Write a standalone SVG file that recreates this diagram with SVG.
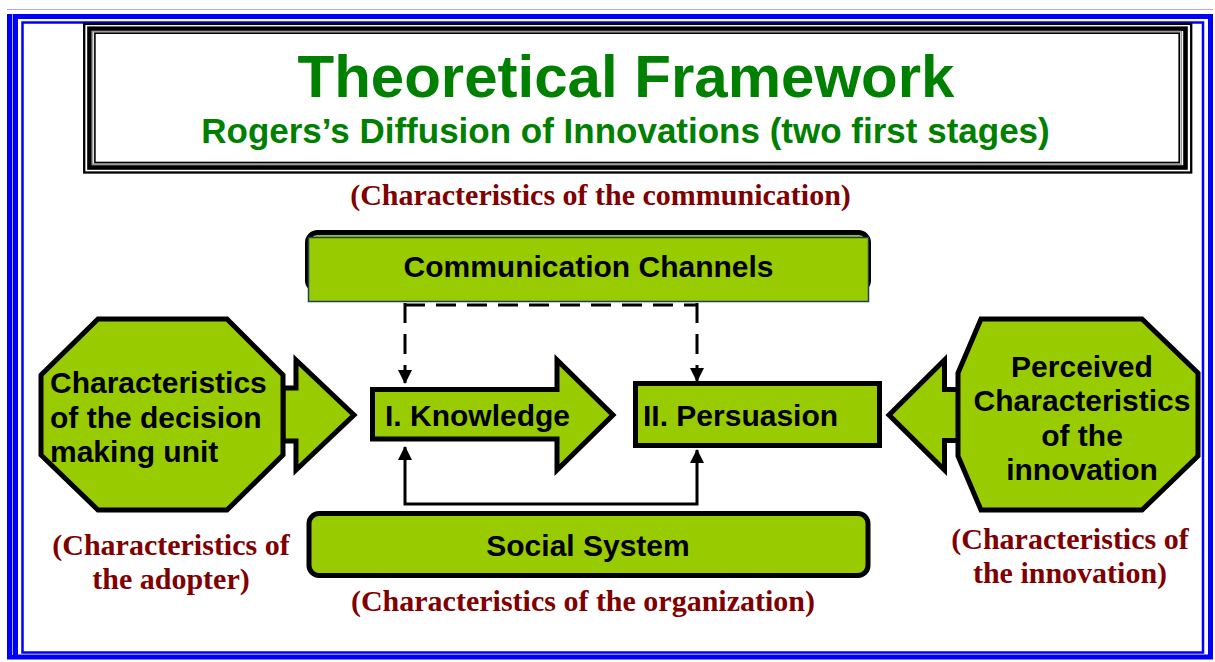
<svg xmlns="http://www.w3.org/2000/svg" width="1215" height="662" viewBox="0 0 1215 662">
  <defs>
    <style>
      .frame { fill: none; stroke: #0000FF; }
      .node { fill: #99CC00; stroke: #000; stroke-width: 5; stroke-linejoin: miter; }
      .label { font-family: "Liberation Sans", Arial, sans-serif; font-weight: bold; font-size: 30px; fill: #000; }
      .note { font-family: "Liberation Serif", "Times New Roman", serif; font-weight: bold; font-size: 30px; fill: #800000; text-anchor: middle; }
      .title { font-family: "Liberation Sans", Arial, sans-serif; font-weight: bold; fill: #008000; text-anchor: middle; }
      .link { fill: none; stroke: #000; stroke-width: 3; }
      .dashed { stroke-dasharray: 20 11; }
    </style>
    <marker id="head" viewBox="0 0 14 14" refX="13" refY="7" markerWidth="14" markerHeight="14" markerUnits="userSpaceOnUse" orient="auto-start-reverse">
      <path d="M0,0 L14,7 L0,14 Z" fill="#000"/>
    </marker>
  </defs>

  <rect width="1215" height="662" fill="#fff"/>

  <!-- page frame: thick outer band, inner thin line -->
  <g id="page-frame">
    <line x1="7" y1="9.5" x2="1213" y2="9.5" stroke="#A8A8FF" stroke-width="1"/>
    <rect class="frame" x="9.5" y="16.5" width="1201" height="640.5" stroke-width="5"/>
    <line x1="12.5" y1="14" x2="12.5" y2="655" stroke="#A8A8FF" stroke-width="1"/>
    <line x1="15.5" y1="14" x2="15.5" y2="655" stroke="#0000FF" stroke-width="5"/>
    <rect class="frame" x="22.5" y="22.5" width="1180.5" height="630" stroke-width="2.5"/>
  </g>

  <!-- title panel -->
  <g id="title">
    <rect x="84.2" y="23.9" width="1107" height="148.6" fill="#fff" stroke="#000" stroke-width="2.3"/>
    <rect x="89.5" y="28.7" width="1096" height="138.8" fill="none" stroke="#000" stroke-width="4.6"/>
    <rect x="92.5" y="31.5" width="1088.8" height="132.7" fill="none" stroke="#9a9a9a" stroke-width="1.6"/>
    <rect x="94.9" y="33.2" width="1084.3" height="129.3" fill="none" stroke="#000" stroke-width="1.6"/>
    <text class="title" x="626" y="97" font-size="60">Theoretical Framework</text>
    <text class="title" x="625.5" y="143" font-size="35">Rogers’s Diffusion of Innovations (two first stages)</text>
  </g>

  <!-- connectors -->
  <g id="connectors">
    <path class="link dashed" d="M405,305 H697"/>
    <path class="link dashed" d="M405,303 V383" marker-end="url(#head)"/>
    <path class="link dashed" d="M697,303 V381" marker-end="url(#head)"/>
    <path class="link" d="M405,447 V504 H697 V450" marker-start="url(#head)" marker-end="url(#head)"/>
  </g>

  <g id="communication-channels">
    <rect x="307.5" y="232.5" width="561" height="58" rx="10" class="node"/>
    <rect x="308.5" y="237.5" width="560" height="64" fill="#99CC00" stroke="#1F3D5C" stroke-width="1.5"/>
    <text class="label" x="588.5" y="276.5" text-anchor="middle">Communication Channels</text>
  </g>
  <text class="note" x="600.5" y="205">(Characteristics of the communication)</text>

  <g id="adopter">
    <polygon class="node" points="283,388 296,388 296,360 354,415 296,470 296,441 283,441"/>
    <polygon class="node" stroke-width="4.5" points="98,319 227,319 283,375 283,455 227,510 98,510 41,455 41,375"/>
    <text class="label" x="50" y="393">Characteristics</text>
    <text class="label" x="50" y="428">of the decision</text>
    <text class="label" x="50" y="462">making unit</text>
  </g>
  <text class="note" x="171" y="555">(Characteristics of</text>
  <text class="note" x="171" y="589">the adopter)</text>

  <g id="knowledge">
    <polygon class="node" points="372.5,389.5 557,389.5 557,360 613,415 557,470 557,439 372.5,439"/>
    <text class="label" x="385" y="426">I. Knowledge</text>
  </g>

  <g id="persuasion">
    <rect class="node" x="635.5" y="383.5" width="244" height="62"/>
    <text class="label" x="643" y="426">II. Persuasion</text>
  </g>

  <g id="innovation">
    <polygon class="node" points="889,415 944.5,360 944.5,389.5 960,389.5 960,440.5 944.5,440.5 944.5,470"/>
    <polygon class="node" stroke-width="4.5" points="981,319 1142,319 1198,373 1198,456 1142,510 981,510 958,456 958,373"/>
    <text class="label" x="1082" y="377" text-anchor="middle">Perceived</text>
    <text class="label" x="1082" y="411" text-anchor="middle">Characteristics</text>
    <text class="label" x="1082" y="446" text-anchor="middle">of the</text>
    <text class="label" x="1082" y="480" text-anchor="middle">innovation</text>
  </g>
  <text class="note" x="1070" y="549">(Characteristics of</text>
  <text class="note" x="1070" y="583">the innovation)</text>

  <g id="social-system">
    <rect class="node" x="309" y="513.5" width="559" height="62" rx="10"/>
    <text class="label" x="588" y="556" text-anchor="middle">Social System</text>
  </g>
  <text class="note" x="583" y="611">(Characteristics of the organization)</text>
</svg>
